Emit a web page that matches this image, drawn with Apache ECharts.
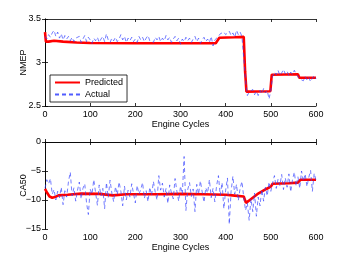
<!DOCTYPE html>
<html>
<head>
<meta charset="utf-8">
<script src="https://cdn.jsdelivr.net/npm/echarts@6/dist/echarts.min.js"></script>
<style>
html,body{margin:0;padding:0;background:#fff;}
#chart{width:349px;height:259px;}
</style>
</head>
<body>
<div id="chart"></div>
<script>
// Sampling step (engine cycles) of the "Actual" arrays below
const cycleStep = 4;

// NMEP actual, every 4 cycles from 0 to 600
const nmepActual = [
3.30,3.27,3.32,3.29,3.34,3.37,3.30,3.35,3.28,3.33,
3.26,3.31,3.27,3.30,3.25,3.29,3.24,3.28,3.26,3.30,
3.23,3.27,3.31,3.24,3.29,3.26,3.22,3.28,3.25,3.29,
3.23,3.27,3.30,3.24,3.33,3.26,3.23,3.28,3.25,3.29,
3.24,3.27,3.32,3.26,3.30,3.23,3.28,3.25,3.29,3.24,
3.27,3.23,3.30,3.26,3.29,3.24,3.28,3.31,3.25,3.27,
3.23,3.29,3.26,3.30,3.24,3.28,3.25,3.31,3.26,3.29,
3.23,3.27,3.30,3.25,3.28,3.21,3.27,3.24,3.29,3.25,
3.28,3.23,3.27,3.30,3.24,3.28,3.22,3.26,3.29,3.24,
3.27,3.23,3.30,3.19,3.26,3.24,3.30,3.33,3.31,3.35,
3.32,3.30,3.36,3.31,3.34,3.29,3.37,3.32,3.35,3.30,
3.28,2.80,2.62,2.66,2.64,2.69,2.63,2.67,2.62,2.68,
2.64,2.70,2.65,2.68,2.58,2.68,2.84,2.89,2.86,2.91,
2.85,2.88,2.92,2.87,2.90,2.85,2.89,2.86,2.91,2.87,
2.88,2.81,2.83,2.79,2.84,2.80,2.83,2.78,2.82,2.85,
2.81
];

// NMEP predicted, [cycle, value] breakpoints
const nmepPredicted = [
[0,3.35],[2,3.24],[8,3.24],[20,3.25],[40,3.24],[70,3.23],[100,3.225],
[200,3.222],[300,3.222],[378,3.222],[382,3.24],[386,3.285],[420,3.29],
[440,3.295],[443,2.90],[446,2.665],[499,2.67],[502,2.86],[560,2.865],
[563,2.825],[600,2.825]
];

// CA50 actual, every 4 cycles from 0 to 600
const ca50Actual = [
-8.0,-6.5,-7.2,-6.3,-9.0,-8.2,-10.0,-8.5,-9.6,-7.8,
-10.8,-8.4,-9.5,-6.8,-5.2,-9.3,-7.9,-10.2,-8.3,-6.9,
-9.8,-8.0,-7.2,-10.5,-12.5,-8.1,-9.0,-6.5,-8.7,-10.9,
-7.4,-9.3,-8.0,-11.5,-7.0,-9.6,-6.6,-8.8,-10.3,-7.7,
-9.1,-6.9,-8.5,-11.0,-7.6,-10.0,-8.3,-9.5,-7.2,-8.9,
-10.5,-7.5,-9.0,-8.2,-7.0,-9.7,-8.4,-10.3,-7.8,-9.2,
-6.8,-8.6,-10.0,-5.8,-8.3,-7.1,-9.5,-8.0,-10.6,-7.4,
-8.8,-9.8,-6.3,-8.5,-10.2,-7.6,-9.0,-2.5,-11.8,-8.2,
-7.0,-9.4,-8.1,-12.0,-7.3,-9.0,-6.7,-8.6,-10.4,-7.9,
-8.8,-6.5,-9.6,-8.0,-10.3,-7.5,-5.8,-9.2,-7.0,-11.5,
-8.3,-6.2,-14.2,-8.5,-5.9,-9.0,-7.3,-10.1,-8.0,-6.8,
-9.5,-11.8,-10.5,-13.5,-9.8,-12.0,-8.8,-12.8,-9.5,-11.0,
-8.2,-10.2,-7.8,-9.3,-6.9,-8.5,-7.0,-5.8,-8.0,-6.4,
-7.5,-5.6,-8.2,-6.2,-7.8,-5.5,-8.6,-6.5,-5.2,-7.6,
-6.0,-8.0,-5.0,-6.8,-5.5,-7.7,-6.1,-4.9,-8.5,-5.4,
-6.6
];

// CA50 predicted, [cycle, value] breakpoints
const ca50Predicted = [
[0,-8.1],[5,-8.8],[10,-9.4],[16,-9.6],[22,-9.5],[30,-9.2],[50,-9.1],
[80,-8.9],[120,-8.95],[150,-9.2],[180,-9.0],[250,-9.0],[300,-8.95],
[350,-9.0],[400,-9.1],[420,-9.25],[440,-9.4],[445,-10.5],[455,-9.9],
[470,-9.0],[490,-8.1],[500,-7.7],[504,-7.2],[540,-7.1],[560,-7.0],
[566,-6.5],[600,-6.5]
];

// Tick settings
const xTicks = {min:0, max:600, interval:100};
const nmepTicks = {min:2.5, max:3.5, interval:0.5};
const ca50Ticks = {min:-15, max:0, interval:5};

const toXY = arr => arr.map((v,i)=>[i*cycleStep, v]);

const font = 'Helvetica, "Liberation Sans", Arial, sans-serif';
const lbl = {color:'#000', fontSize:9, fontFamily:font};
const axLine = {show:true, lineStyle:{color:'#000', width:0.8}};
const tickIn = {show:true, inside:true, length:3, lineStyle:{color:'#000', width:0.8}};

function xAxes(gi){
  return [
    {type:'value', gridIndex:gi, ...xTicks, position:'bottom',
     axisLine:axLine, axisTick:tickIn, splitLine:{show:false},
     axisLabel:{...lbl, margin:4},
     name:'Engine Cycles', nameLocation:'middle', nameGap:14, nameMoveOverlap:false,
     nameTextStyle:{...lbl}},
    {type:'value', gridIndex:gi, ...xTicks, position:'top',
     axisLine:axLine, axisTick:tickIn, splitLine:{show:false},
     axisLabel:{show:false}}
  ];
}
function yAxes(gi, t, name, fmt){
  return [
    {type:'value', gridIndex:gi, ...t, position:'left',
     axisLine:axLine, axisTick:tickIn, splitLine:{show:false},
     axisLabel:{...lbl, margin:4, formatter:fmt},
     name:name, nameLocation:'middle', nameGap:17, nameRotate:90, nameMoveOverlap:false,
     nameTextStyle:{...lbl}},
    {type:'value', gridIndex:gi, ...t, position:'right',
     axisLine:axLine, axisTick:tickIn, splitLine:{show:false},
     axisLabel:{show:false}}
  ];
}

const chart = echarts.init(document.getElementById('chart'), null, {renderer:'canvas'});
const predStyle = {color:'#ff0000', width:2.6};
const actStyle = {color:'#3340ff', width:0.8, type:[4,3], opacity:0.85};

chart.setOption({
  animation:false,
  backgroundColor:'#fff',
  grid:[
    {left:45, top:19, width:271, height:87},
    {left:45, top:142, width:271, height:87}
  ],
  xAxis:[...xAxes(0), ...xAxes(1)],
  yAxis:[
    ...yAxes(0, nmepTicks, 'NMEP', v => (Math.round(v*10)/10).toString()),
    ...yAxes(1, ca50Ticks, 'CA50', v => v.toString().replace('-', '\u2212'))
  ],
  legend:{
    left:50, top:75,
    orient:'vertical', itemWidth:25, itemHeight:8, itemGap:3,
    padding:[3,4,3,4],
    backgroundColor:'#fff', borderColor:'#000', borderWidth:0.8,
    itemStyle:{opacity:0},
    textStyle:{...lbl},
    data:['Predicted','Actual']
  },
  series:[
    {name:'Predicted', type:'line', xAxisIndex:0, yAxisIndex:0,
     data:nmepPredicted, showSymbol:false, symbol:'none', lineStyle:predStyle, z:2},
    {name:'Actual', type:'line', xAxisIndex:0, yAxisIndex:0,
     data:toXY(nmepActual), showSymbol:false, symbol:'none', lineStyle:actStyle, z:3},
    {name:'Predicted', type:'line', xAxisIndex:2, yAxisIndex:2,
     data:ca50Predicted, showSymbol:false, symbol:'none', lineStyle:predStyle, z:2},
    {name:'Actual', type:'line', xAxisIndex:2, yAxisIndex:2,
     data:toXY(ca50Actual), showSymbol:false, symbol:'none', lineStyle:actStyle, z:3}
  ]
});
</script>
</body>
</html>
